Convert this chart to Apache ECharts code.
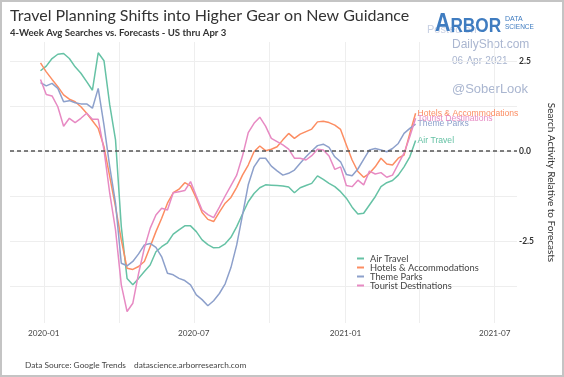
<!DOCTYPE html>
<html>
<head>
<meta charset="utf-8">
<script src="https://cdn.jsdelivr.net/npm/echarts@6/dist/echarts.min.js"></script>
<style>
  html, body { margin: 0; padding: 0; background: #fff; }
  #chart { width: 564px; height: 377px; }
</style>
</head>
<body>
<div id="chart"></div>
<script>
// weekly 4-week averages, first week ending 2019-12-28
const firstWeek = Date.UTC(2019, 11, 28)
const seriesNames = ['Air Travel', 'Hotels & Accommodations', 'Theme Parks', 'Tourist Destinations']
const seriesColors = ['#66c2a5', '#fc8d62', '#8da0cb', '#e78ac3']

const airTravel = [
  2.23, 2.36, 2.57, 2.69, 2.71, 2.57, 2.34, 2.16, 1.93, 1.69,
  2.73, 2.51, 1.28, 0.31, -2.10, -3.54, -3.72, -3.54, -3.35, -3.17,
  -2.80, -2.66, -2.55, -2.31, -2.19, -2.08, -2.08, -2.24, -2.47, -2.60,
  -2.69, -2.68, -2.58, -2.40, -2.10, -1.75, -1.41, -1.18, -1.02, -0.94,
  -0.95, -0.96, -0.97, -1.00, -1.16, -1.02, -0.96, -0.90, -0.69, -0.79,
  -0.90, -0.99, -1.13, -1.31, -1.56, -1.75, -1.73, -1.50, -1.27, -0.99,
  -0.88, -0.82, -0.67, -0.44, -0.16, 0.29
]
const hotels = [
  2.45, 2.20, 1.99, 1.79, 1.56, 1.44, 1.37, 1.23, 1.05, 0.84,
  0.63, 0.12, -0.71, -1.55, -2.47, -3.26, -3.29, -3.21, -3.07, -2.66,
  -2.24, -1.87, -1.45, -1.16, -1.06, -0.88, -0.97, -1.31, -1.71, -1.90,
  -1.96, -1.70, -1.45, -1.29, -1.01, -0.67, -0.39, -0.02, 0.14, 0.01,
  0.05, 0.12, 0.31, 0.49, 0.35, 0.47, 0.54, 0.61, 0.81, 0.83,
  0.79, 0.72, 0.60, 0.17, -0.25, -0.57, -0.73, -0.62, -0.44, -0.20,
  -0.36, -0.39, -0.20, -0.11, 0.49, 1.05
]
const themeParks = [
  1.90, 1.81, 1.88, 1.74, 1.37, 1.40, 1.34, 1.31, 1.31, 1.19,
  1.74, 0.72, -0.44, -1.45, -3.12, -3.19, -3.07, -2.86, -2.61, -2.57,
  -2.68, -2.94, -3.40, -3.44, -3.54, -3.60, -3.72, -4.00, -4.13, -4.30,
  -4.16, -3.96, -3.69, -3.24, -2.61, -1.78, -0.94, -0.44, -0.20, -0.20,
  -0.42, -0.55, -0.67, -0.62, -0.53, -0.34, -0.16, 0.00, 0.15, 0.19,
  0.10, -0.16, -0.30, -0.65, -0.69, -0.50, -0.23, 0.03, 0.07, 0.03,
  -0.02, 0.07, 0.21, 0.49, 0.63, 0.75
]
const touristDest = [
  1.99, 1.57, 1.53, 1.23, 0.69, 0.91, 0.79, 0.91, 1.05, 0.88,
  0.88, 0.03, -1.18, -2.19, -3.72, -4.46, -4.23, -3.40, -2.70, -2.15,
  -1.78, -1.59, -1.64, -1.16, -1.13, -1.10, -0.85, -1.25, -1.64, -1.77,
  -1.85, -1.56, -1.25, -0.96, -0.67, -0.14, 0.51, 0.77, 0.94, 0.69,
  0.35, 0.26, 0.17, 0.05, -0.20, -0.20, -0.25, -0.13, 0.05, 0.03,
  -0.14, -0.51, -0.44, -0.96, -0.99, -0.81, -0.94, -0.56, -0.64, -0.60,
  -0.73, -0.67, -0.36, -0.06, 0.40, 0.91
]
const allValues = [airTravel, hotels, themeParks, touristDest]

const gridMonths = ['2020-01-01', '2020-04-01', '2020-07-01', '2020-10-01', '2021-01-01', '2021-04-01', '2021-07-01']
const labelMonths = ['2020-01-01', '2020-07-01', '2021-01-01', '2021-07-01']
const yGridValues = [-3.75, -2.5, -1.25, 0, 1.25, 2.5]
const yLabelValues = [-2.5, 0, 2.5]

const toTime = s => Date.parse(s + 'T00:00:00Z')
const weekTime = i => firstWeek + i * 7 * 86400000

const chart = echarts.init(document.getElementById('chart'))
chart.setOption({
  animation: false,
  title: {
    text: 'Travel Planning Shifts into Higher Gear on New Guidance',
    subtext: '4-Week Avg Searches vs. Forecasts - US thru Apr 3',
    left: 10,
    top: 8,
    padding: 0,
    itemGap: 4,
    textStyle: { fontFamily: 'Lato', fontSize: 16, fontWeight: 'normal', color: '#333' },
    subtextStyle: { fontFamily: 'Lato', fontSize: 9.6, fontWeight: 'bold', color: '#333' }
  },
  legend: {
    orient: 'vertical',
    left: 357,
    top: 254,
    padding: 0,
    itemGap: 0,
    itemWidth: 7,
    itemHeight: 2,
    icon: 'rect',
    data: seriesNames,
    textStyle: { fontFamily: 'Lato', fontSize: 9.3, lineHeight: 8, color: '#444', padding: [0, 0, 0, 1] }
  },
  grid: { left: 10, right: 46, top: 42, bottom: 54 },
  xAxis: {
    type: 'value',
    min: toTime('2019-11-21'),
    max: toTime('2021-07-28'),
    axisLine: { show: false },
    axisTick: { show: false, customValues: gridMonths.map(toTime) },
    splitLine: { show: true, lineStyle: { color: '#eeeeee', width: 1 } },
    axisLabel: {
      customValues: labelMonths.map(toTime),
      fontFamily: 'Lato',
      fontSize: 8.2,
      color: '#444',
      margin: 6,
      formatter: v => {
        const d = new Date(v)
        return d.getUTCFullYear() + '-' + String(d.getUTCMonth() + 1).padStart(2, '0')
      }
    }
  },
  yAxis: {
    type: 'value',
    position: 'right',
    min: -4.78,
    max: 3.03,
    name: 'Search Activity Relative to Forecasts',
    nameLocation: 'middle',
    nameRotate: -90,
    nameGap: 29,
    nameTextStyle: { fontFamily: 'Lato', fontSize: 10, color: '#333' },
    axisLine: { show: false },
    axisTick: { show: false, customValues: yGridValues },
    splitLine: { show: true, lineStyle: { color: '#eeeeee', width: 1 } },
    axisLabel: {
      customValues: yLabelValues,
      fontFamily: 'Lato',
      fontSize: 8.5,
      fontWeight: 'bold',
      color: '#333',
      margin: 2,
      formatter: v => v.toFixed(1)
    }
  },
  series: seriesNames.map((name, k) => ({
    name: name,
    type: 'line',
    showSymbol: false,
    symbol: 'none',
    color: seriesColors[k],
    lineStyle: { width: 1.5 },
    data: allValues[k].map((v, i) => [weekTime(i), v]),
    endLabel: {
      show: true,
      formatter: name,
      color: seriesColors[k],
      fontFamily: 'Liberation Sans',
      fontSize: 8.6,
      distance: 1,
      offset: [1, 0]
    },
    markLine: k === 0 ? {
      silent: true,
      symbol: 'none',
      label: { show: false },
      lineStyle: { color: '#555', type: [4, 3], width: 1.5 },
      data: [{ yAxis: 0 }]
    } : undefined
  })),
  graphic: [
    { type: 'rect', shape: { x: 1, y: 1, width: 562, height: 375 }, style: { fill: 'none', stroke: '#c4c4c4', lineWidth: 2 } },
    { type: 'text', left: 427, top: 24, style: { text: 'Posted on', font: '11px "Liberation Sans"', fill: '#c8d0e3' } },
    {
      type: 'text', x: 435, y: 37, scaleX: 0.82,
      style: {
        text: '{a|A}{b|RBOR}',
        verticalAlign: 'bottom',
        rich: {
          a: { font: 'bold 26px "Liberation Sans"', fill: '#3f7cc0', verticalAlign: 'bottom' },
          b: { font: 'bold 21px "Liberation Sans"', fill: '#3f7cc0', verticalAlign: 'bottom' }
        }
      }
    },
    { type: 'text', left: 505, top: 16, style: { text: 'DATA', font: '7px "Liberation Sans"', fill: '#3f7cc0' } },
    { type: 'text', left: 505, top: 24, style: { text: 'SCIENCE', font: '6.5px "Liberation Sans"', fill: '#3f7cc0' } },
    { type: 'text', left: 452, top: 39, style: { text: 'DailyShot.com', font: '12px "Liberation Sans"', fill: '#aab6d0' } },
    { type: 'text', left: 452, top: 56, style: { text: '06-Apr-2021', font: '10px "Liberation Sans"', fill: '#aab6d0' } },
    { type: 'text', left: 452, top: 83, style: { text: '@SoberLook', font: '13px "Liberation Sans"', fill: '#aab6d0' } },
    { type: 'text', left: 25, top: 361, style: { text: 'Data Source: Google Trends', font: '8.3px Lato', fill: '#444' } },
    { type: 'text', left: 134, top: 361, style: { text: 'datascience.arborresearch.com', font: '8.3px Lato', fill: '#444' } }
  ]
})
</script>
</body>
</html>
